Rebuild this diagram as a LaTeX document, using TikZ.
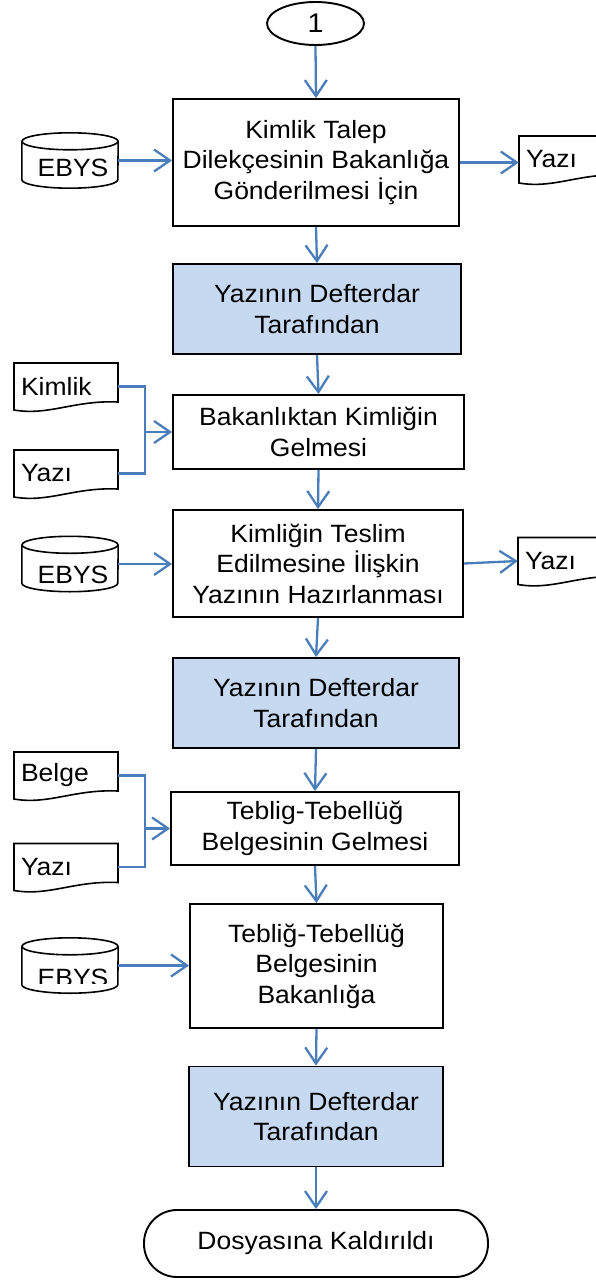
\documentclass[tikz,border=0pt]{standalone}
\usepackage{fontspec}
\setmainfont{Liberation Sans}[FakeStretch=1.06]
\usetikzlibrary{arrows.meta,calc,shapes.geometric}
\definecolor{arrowblue}{HTML}{4A7EBB}
\definecolor{boxblue}{HTML}{C6D9F0}
\begin{document}
\begin{tikzpicture}[x=1pt,y=-1pt,
  every node/.style={font=\fontsize{25}{30.5}\selectfont},
  proc/.style={draw=black, line width=1.9pt, fill=white, align=center, inner sep=0pt},
  procb/.style={proc, fill=boxblue},
  conn/.style={draw=arrowblue, line width=2.3pt, -{Straight Barb[length=16pt,width=22pt]}},
  link/.style={draw=arrowblue, line width=2.3pt},
  docnode/.style={minimum width=104pt, minimum height=47pt, inner xsep=7pt, inner ysep=0pt, text width=90pt, align=left},
  cylnode/.style={minimum width=96pt, minimum height=55pt, inner sep=0pt},
  outline/.style={draw=black, line width=1.6pt, fill=white},
]
\useasboundingbox (0,0) rectangle (595,1281);

% start connector
\node[draw, ellipse, line width=1.9pt, minimum width=97pt, minimum height=43pt, inner sep=0pt,
      font=\fontsize{27}{30}\selectfont] (s) at (315.5,23.5) {1};

% process boxes
\node[proc, minimum width=286pt, minimum height=127pt] (b1) at (316,162.5) {Kimlik Talep\\Dilekçesinin Bakanlığa\\Gönderilmesi İçin};
\node[procb, minimum width=288pt, minimum height=90pt] (b2) at (317,309) {Yazının Defterdar\\Tarafından};
\node[proc, minimum width=291pt, minimum height=74pt] (b3) at (318.5,432) {Bakanlıktan Kimliğin\\Gelmesi};
\node[proc, minimum width=290pt, minimum height=107pt] (b4) at (318,563.5) {Kimliğin Teslim\\Edilmesine İlişkin\\Yazının Hazırlanması};
\node[procb, minimum width=286pt, minimum height=90pt] (b5) at (316,703) {Yazının Defterdar\\Tarafından};
\node[proc, minimum width=288pt, minimum height=73pt] (b6) at (315,828.5) {Teblig-Tebellüğ\\Belgesinin Gelmesi};
\node[proc, minimum width=253pt, minimum height=124pt] (b7) at (316.5,966) {Tebliğ-Tebellüğ\\Belgesinin\\Bakanlığa};
\node[procb, minimum width=254pt, minimum height=100pt] (b8) at (316,1116.5) {Yazının Defterdar\\Tarafından};
\node[draw, line width=1.9pt, rounded corners=33pt, minimum width=344pt, minimum height=67pt, inner sep=0pt] (t) at (316,1243.5) {Dosyasına Kaldırıldı};

% document shapes
\foreach \n/\cx/\cy in {dk/66/386.5, dy1/66/473.5, dbel/66/775.5, dy2/66/867, r1/571/159.5, r2/570/561}{
  \path (\cx,\cy) coordinate (\n-c);
  \draw[outline] ([shift={(-52pt,23.5pt)}]\n-c) -- ([shift={(52pt,23.5pt)}]\n-c)
    -- ([shift={(52pt,-15.5pt)}]\n-c)
    .. controls ([shift={(8pt,-13.5pt)}]\n-c) and ([shift={(-17pt,-29.5pt)}]\n-c)
    .. ([shift={(-52pt,-23.5pt)}]\n-c) -- cycle;
}
\node[docnode] (dk) at (dk-c) {Kimlik};
\node[docnode] (dy1) at (dy1-c) {Yazı};
\node[docnode] (dbel) at (dbel-c) {Belge};
\node[docnode] (dy2) at (dy2-c) {Yazı};
\node[docnode] (r1) at (r1-c) {Yazı};
\node[docnode] (r2) at (r2-c) {Yazı};

% cylinders (EBYS)
\foreach \n/\cy in {c1/160.5, c2/564, c3/965.5}{
  \node[cylnode] (\n) at (70,\cy) {};
  \draw[outline] ([yshift=-8.5pt]\n.north west) -- ([yshift=8.5pt]\n.south west)
    arc [start angle=180, end angle=360, x radius=48pt, y radius=8.5pt]
    -- ([yshift=-8.5pt]\n.north east);
  \draw[outline] ([yshift=-8.5pt]\n.north) ellipse [x radius=48pt, y radius=8.5pt];
}
\node (c1t) at (73,168) {EBYS};
\node (c2t) at (73,575) {EBYS};
\begin{scope}
  \clip (20,950) rectangle (120,983.5);
  \node (c3t) at (73,978) {EBYS};
\end{scope}

% vertical flow
\draw[conn] (s.south) -- (b1.north);
\draw[conn] (b1.south) -- (b2.north);
\draw[conn] (b2.south) -- (b3.north);
\draw[conn] (b3.south) -- (b4.north);
\draw[conn] (b4.south) -- (b5.north);
\draw[conn] (b5.south) -- (b6.north);
\draw[conn] (b6.south) -- (b7.north);
\draw[conn] (b7.south) -- (b8.north);
\draw[conn] (b8.south) -- (t.north);

% side inputs / outputs
\draw[conn] (c1.east) -- (b1.west |- c1.east);
\draw[conn] (b1.east) -- (r1.west |- b1.east);
\draw[conn] (c2.east) -- (b4.west |- c2.east);
\draw[conn] (b4.east) -- (r2.west);
\draw[conn] (c3.east) -- (b7.west |- c3.east);

% brackets
\coordinate (j1) at (145,432);
\draw[link] (dk.east) -| (j1) |- (dy1.east);
\draw[conn] (j1) -- (b3.west |- j1);
\coordinate (j2) at (145,828.5);
\draw[link] (dbel.east) -| (j2) |- (dy2.east);
\draw[conn] (j2) -- (b6.west |- j2);
\end{tikzpicture}
\end{document}
